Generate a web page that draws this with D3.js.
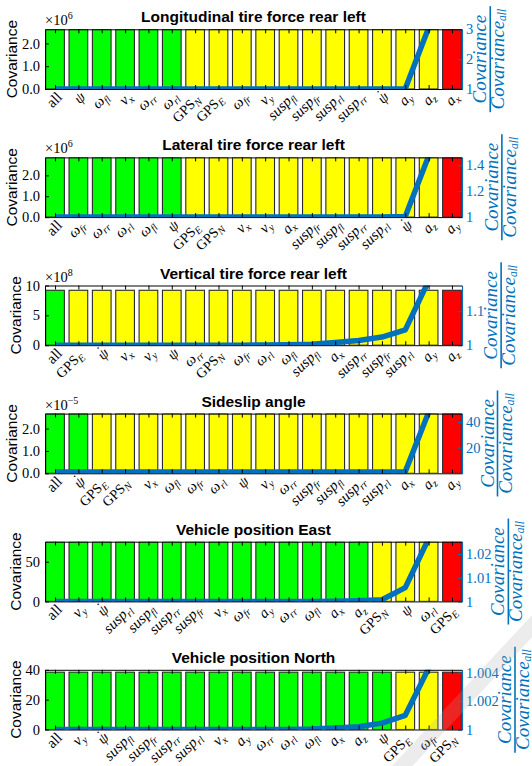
<!DOCTYPE html>
<html>
<head>
<meta charset="utf-8">
<script src="https://cdn.jsdelivr.net/npm/d3@7"></script>
<style>
  body { margin: 0; background: #fff; }
  svg { display: block; }
</style>
</head>
<body>
<svg id="chart" width="532" height="766"></svg>
<script>
// ---------- data ----------
const titles = [
  "Longitudinal tire force rear left",
  "Lateral tire force rear left",
  "Vertical tire force rear left",
  "Sideslip angle",
  "Vehicle position East",
  "Vehicle position North"
];

// Excluded measurement per bar (sorted by the covariance ratio)
const longCats  = ["all","psi","w_fl","v_x","w_rr","w_rl","GPS_N","GPS_E","w_fr","v_y","susp_fl","susp_fr","susp_rl","susp_rr","psidot","a_y","a_z","a_x"];
const latCats   = ["all","w_fr","w_rr","w_rl","w_fl","psi","GPS_E","GPS_N","v_x","v_y","a_x","susp_fr","susp_fl","susp_rr","susp_rl","psidot","a_z","a_y"];
const vertCats  = ["all","GPS_E","psidot","v_x","v_y","psi","w_rr","GPS_N","w_fr","w_rl","w_fl","susp_fl","a_x","susp_rr","susp_fr","susp_rl","a_y","a_z"];
const slipCats  = ["all","psidot","GPS_E","GPS_N","v_x","w_fl","w_fr","w_rl","psi","v_y","w_rr","susp_fr","susp_fl","susp_rr","susp_rl","a_x","a_z","a_y"];
const eastCats  = ["all","v_y","psidot","susp_rl","susp_fl","susp_rr","susp_fr","v_x","w_fr","a_y","w_rr","w_fl","a_x","a_z","GPS_N","psi","w_rl","GPS_E"];
const northCats = ["all","v_y","psidot","susp_fl","susp_fr","susp_rr","susp_rl","v_x","a_y","w_rr","w_rl","w_fl","a_x","a_z","psi","GPS_E","w_fr","GPS_N"];

// Covariance per configuration (in units of the axis exponent)
const longCov  = [2.62,2.62,2.62,2.62,2.62,2.62,2.62,2.62,2.62,2.62,2.62,2.62,2.62,2.62,2.62,2.62,2.62,2.62];
const latCov   = [2.86,2.86,2.86,2.86,2.86,2.86,2.86,2.86,2.86,2.86,2.86,2.86,2.86,2.86,2.86,2.86,2.86,2.86];
const vertCov  = [9.2,9.2,9.2,9.2,9.2,9.2,9.2,9.2,9.2,9.2,9.2,9.2,9.2,9.2,9.2,9.2,9.2,9.2];
const slipCov  = [2.67,2.67,2.67,2.67,2.67,2.67,2.67,2.67,2.67,2.67,2.67,2.67,2.67,2.67,2.67,2.67,2.67,2.67];
const eastCov  = [75.2,75.2,75.2,75.2,75.2,75.2,75.2,75.2,75.2,75.2,75.2,75.2,75.2,75.2,75.2,75.2,75.2,75.2];
const northCov = [38.4,38.4,38.4,38.4,38.4,38.4,38.4,38.4,38.4,38.4,38.4,38.4,38.4,38.4,38.4,38.4,38.4,38.4];

// Covariance relative to the "all" configuration
const longRatio  = [1,1,1,1,1,1,1,1,1,1,1,1,1,1,1.002,1.01,3.05,9.5];
const latRatio   = [1,1,1,1,1,1,1,1,1,1,1,1,1,1,1.001,1.004,1.47,3.2];
const vertRatio  = [1,1,1,1,1,1,1,1,1,1.0005,1.001,1.003,1.008,1.014,1.024,1.045,1.19,1.6];
const slipRatio  = [1,1,1,1,1,1,1,1,1,1,1,1,1,1,1.05,1.3,47.5,160];
const eastRatio  = [1,1,1,1,1,1,1,1,1,1,1,1,1.0001,1.0003,1.0007,1.0058,1.0265,1.08];
const northRatio = [1,1,1,1,1,1,1,1,1,1,1,1.00003,1.0001,1.0002,1.00045,1.001,1.0043,1.02];

// Number of leading green bars; the last bar of each panel is red
const greenCounts = [6, 6, 1, 2, 14, 15];

// Axis settings
const covExponents = ["6", "6", "8", "\u22125", null, null];
const covTicks   = [[0,1,2],[0,1,2],[0,5,10],[0,1,2],[0,50],[0,20,40]];
const covLimits  = [2.62, 2.86, 10, 2.67, 75.2, 40];
const ratioTicks = [[1,2,3],[1,1.2,1.4],[1,1.1],[20,40],[1,1.01,1.02],[1,1.002,1.004]];
const ratioLimits = [[1,3],[1,1.46],[1,1.176],[0,46.5],[1,1.0252],[1,1.0042]];

const panels = [
  {cats: longCats,  cov: longCov,  ratio: longRatio},
  {cats: latCats,   cov: latCov,   ratio: latRatio},
  {cats: vertCats,  cov: vertCov,  ratio: vertRatio},
  {cats: slipCats,  cov: slipCov,  ratio: slipRatio},
  {cats: eastCats,  cov: eastCov,  ratio: eastRatio},
  {cats: northCats, cov: northCov, ratio: northRatio}
];

// ---------- layout & style ----------
const SANS = "'Liberation Sans', Arial, sans-serif";
const SERIF = "'Liberation Serif', 'DejaVu Serif', serif";
const BLUE = "#0072BD";
const GREEN = "#00FF00", YELLOW = "#FFFF00", RED = "#FF0000";
const plotLeft = 45, plotRight = 462;
const firstTop = 29.3, panelStep = 128.1, plotH = 59.7;

const svg = d3.select("#chart");
const defs = svg.append("defs");

const x = d3.scaleLinear().domain([-0.43, 17.43]).range([plotLeft, plotRight]);

function labelParts(key) {
  const [base, sub] = key.split("_");
  if (base === "all") return {base: "all", italic: false};
  if (base === "GPS") return {base: "GPS", italic: false, sub: sub, wide: true};
  if (base === "psi") return {base: "\u03C8", italic: true};
  if (base === "psidot") return {base: "\u03C8", italic: true, dot: true};
  if (base === "w") return {base: "\u03C9", italic: true, sub: sub};
  return {base: base, italic: true, sub: sub};
}

panels.forEach((p, k) => {
  const top = firstTop + k * panelStep;
  const bottom = top + plotH;
  const g = svg.append("g").attr("class", "panel");

  const y = d3.scaleLinear().domain([0, covLimits[k]]).range([bottom, top]);
  const yR = d3.scaleLinear().domain(ratioLimits[k]).range([bottom, top]);

  const clipId = "clip" + k;
  defs.append("clipPath").attr("id", clipId)
    .append("rect").attr("x", plotLeft).attr("y", top)
    .attr("width", plotRight - plotLeft).attr("height", plotH);

  // bars
  g.append("g").attr("clip-path", `url(#${clipId})`)
    .selectAll("rect").data(p.cov).join("rect")
    .attr("x", (d, i) => x(i - 0.4))
    .attr("width", (d, i) => x(i + 0.4) - x(i - 0.4))
    .attr("y", d => y(d))
    .attr("height", d => y(0) - y(d))
    .attr("fill", (d, i) => i === p.cov.length - 1 ? RED : (i < greenCounts[k] ? GREEN : YELLOW))
    .attr("stroke", "#2a2a2a").attr("stroke-width", 1.1);

  // ratio line
  const line = d3.line().x((d, i) => x(i)).y(d => yR(d));
  g.append("path").attr("clip-path", `url(#${clipId})`)
    .datum(p.ratio)
    .attr("d", line)
    .attr("fill", "none").attr("stroke", BLUE)
    .attr("stroke-width", 5.5).attr("stroke-linejoin", "round");

  // left axis
  const axL = g.append("g").attr("transform", `translate(${plotLeft},0)`)
    .call(d3.axisLeft(y).tickValues(covTicks[k]).tickSizeInner(-4).tickSizeOuter(0).tickPadding(5));
  axL.select(".domain").attr("stroke", "#000");
  axL.selectAll("text").attr("font-family", SERIF).attr("font-size", 14.5).attr("fill", "#000");

  // right axis
  const axR = g.append("g").attr("transform", `translate(${plotRight},0)`)
    .call(d3.axisRight(yR).tickValues(ratioTicks[k]).tickFormat(d => String(d))
      .tickSizeInner(-4).tickSizeOuter(0).tickPadding(4));
  axR.select(".domain").attr("stroke", BLUE).attr("stroke-width", 1.2);
  axR.selectAll("line").attr("stroke", BLUE);
  axR.selectAll("text").attr("font-family", SERIF).attr("font-size", 14.5).attr("fill", BLUE);

  // bottom & top axes (tick marks at each bar)
  const idx = d3.range(p.cats.length);
  const axB = g.append("g").attr("transform", `translate(0,${bottom})`)
    .call(d3.axisBottom(x).tickValues(idx).tickFormat("").tickSizeInner(-4).tickSizeOuter(0));
  axB.select(".domain").attr("stroke", "#000");
  const axT = g.append("g").attr("transform", `translate(0,${top})`)
    .call(d3.axisTop(x).tickValues(idx).tickFormat("").tickSizeInner(-4).tickSizeOuter(0));
  axT.select(".domain").attr("stroke", "#000");

  // rotated category labels
  p.cats.forEach((key, i) => {
    const parts = labelParts(key);
    const t = g.append("text")
      .attr("transform", `translate(${x(i) + 8},${bottom + 9}) rotate(-45)`)
      .attr("x", parts.wide ? -3 : 0)
      .attr("text-anchor", "end")
      .attr("font-family", SERIF).attr("font-size", parts.wide ? 14 : 15);
    t.append("tspan").text(parts.base).attr("font-style", parts.italic ? "italic" : "normal");
    if (parts.dot) {
      t.append("tspan").text("\u02D9").attr("font-size", 15).attr("dx", -6.5).attr("dy", -3.5);
    }
    if (parts.sub) {
      t.append("tspan").text(parts.sub).attr("font-style", "italic")
        .attr("font-size", 10.5).attr("dy", 3);
    }
  });

  // exponent above left axis
  if (covExponents[k]) {
    const e = g.append("text").attr("x", plotLeft).attr("y", top - 4)
      .attr("font-family", SERIF).attr("font-size", 14.5);
    e.append("tspan").text("\u00D710");
    e.append("tspan").text(covExponents[k]).attr("font-size", 10).attr("dy", -6);
  }

  // title
  g.append("text").attr("x", (plotLeft + plotRight) / 2).attr("y", top - 7)
    .attr("text-anchor", "middle").attr("font-family", SANS)
    .attr("font-weight", "bold").attr("font-size", 15.5).text(titles[k]);

  // left axis label
  const leftMost = d3.min(axL.selectAll("text").nodes(), n => n.getBBox().x) + plotLeft;
  g.append("text")
    .attr("transform", `translate(${leftMost - 5},${(top + bottom) / 2}) rotate(-90)`)
    .attr("text-anchor", "middle").attr("font-family", SANS).attr("font-size", 15.5)
    .text("Covariance");

  // right axis label: Covariance / Covariance_all
  const rightMost = d3.max(axR.selectAll("text").nodes(), n => {
    const b = n.getBBox(); return b.x + b.width;
  }) + plotRight;
  const fx = Math.min(rightMost + 17, 515);
  const fr = g.append("g")
    .attr("transform", `translate(${fx},${(top + bottom) / 2}) rotate(-90)`)
    .attr("fill", BLUE).attr("font-family", SERIF).attr("font-style", "italic");
  fr.append("line").attr("x1", -53).attr("x2", 53).attr("y1", 0).attr("y2", 0)
    .attr("stroke", BLUE).attr("stroke-width", 1.6);
  fr.append("text").attr("x", 0).attr("y", -4).attr("text-anchor", "middle")
    .attr("font-size", 19).text("Covariance");
  const den = fr.append("text").attr("x", 0).attr("y", 14).attr("text-anchor", "middle")
    .attr("font-size", 19);
  den.append("tspan").text("Covariance");
  den.append("tspan").text("all").attr("font-size", 11.5).attr("dy", 2);
});

// faint diagonal streak across the lower right corner
svg.append("line").attr("x1", 560).attr("y1", 596).attr("x2", 380).attr("y2", 790)
  .attr("stroke", "rgba(170,170,170,0.22)").attr("stroke-width", 15);
</script>
</body>
</html>
